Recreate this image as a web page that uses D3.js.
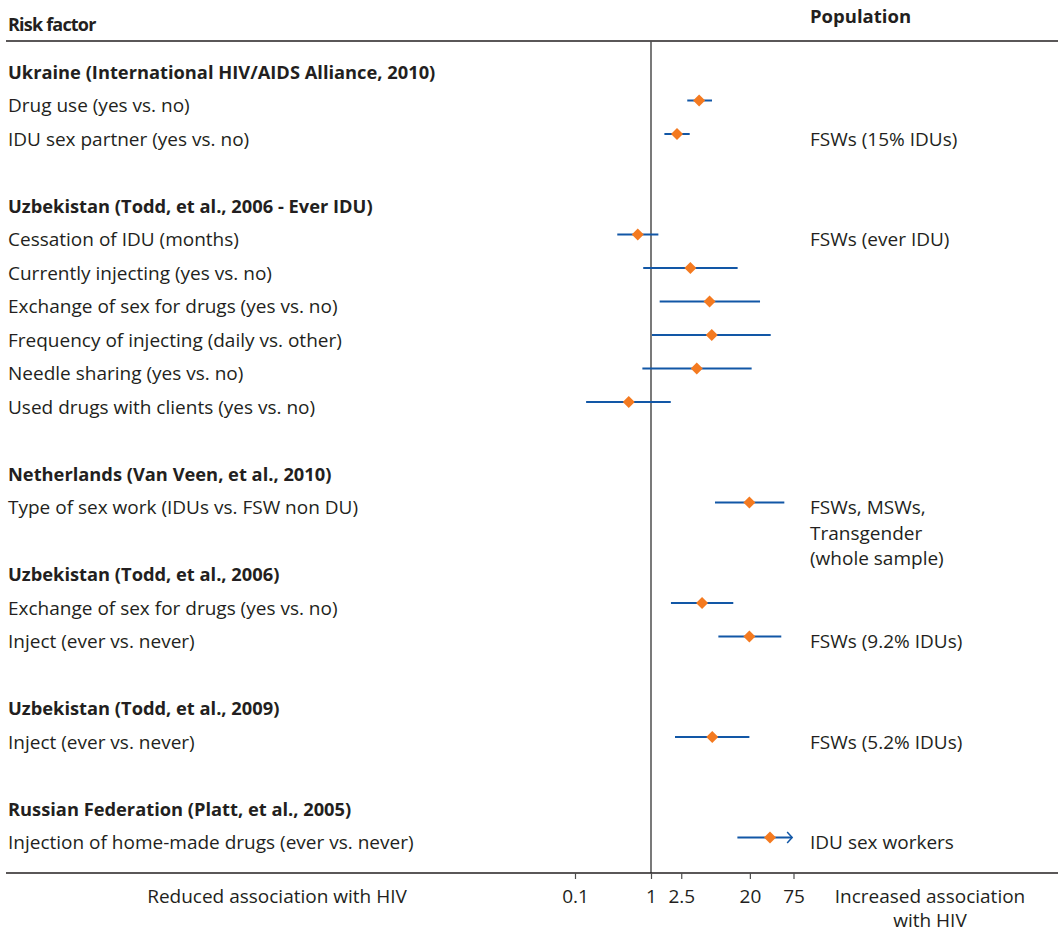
<!DOCTYPE html>
<html>
<head>
<meta charset="utf-8">
<script src="https://cdn.jsdelivr.net/npm/d3@7"></script>
<style>
  html, body { margin: 0; padding: 0; background: #ffffff; }
  svg { display: block; }
  text { font-family: "Open Sans", "Noto Sans", sans-serif; fill: #231f20; }
</style>
</head>
<body>
<svg id="chart" width="1058" height="932"></svg>
<script>
// ---- data ----
const rowLabels = [
  "Ukraine (International HIV/AIDS Alliance, 2010)",
  "Drug use (yes vs. no)",
  "IDU sex partner (yes vs. no)",
  "",
  "Uzbekistan (Todd, et al., 2006 - Ever IDU)",
  "Cessation of IDU (months)",
  "Currently injecting (yes vs. no)",
  "Exchange of sex for drugs (yes vs. no)",
  "Frequency of injecting (daily vs. other)",
  "Needle sharing (yes vs. no)",
  "Used drugs with clients (yes vs. no)",
  "",
  "Netherlands (Van Veen, et al., 2010)",
  "Type of sex work (IDUs vs. FSW non DU)",
  "",
  "Uzbekistan (Todd, et al., 2006)",
  "Exchange of sex for drugs (yes vs. no)",
  "Inject (ever vs. never)",
  "",
  "Uzbekistan (Todd, et al., 2009)",
  "Inject (ever vs. never)",
  "",
  "Russian Federation (Platt, et al., 2005)",
  "Injection of home-made drugs (ever vs. never)"
];
const isHeader = [1,0,0,0,1,0,0,0,0,0,0,0,1,0,0,1,0,0,0,1,0,0,1,0];
const oddsRatio = [null,4.3,2.2,null,null,0.67,3.3,5.9,6.3,4.0,0.51,null,null,19.7,null,null,4.7,19.7,null,null,6.4,null,null,36.8];
const ciLower   = [null,3.0,1.5,null,null,0.36,0.79,1.30,1.03,0.77,0.14,null,null,6.95,null,null,1.83,7.7,null,null,2.07,null,null,13.7];
const ciUpper   = [null,6.35,3.23,null,null,1.25,13.8,27.2,37.6,21.1,1.82,null,null,56.8,null,null,12.1,51.8,null,null,19.7,null,null,72];
const ciOpenEnded = [0,0,0,0,0,0,0,0,0,0,0,0,0,0,0,0,0,0,0,0,0,0,0,1];

const populationRows = [2, 5, 13, 17, 20, 23];
const populationLabels = [
  ["FSWs (15% IDUs)"],
  ["FSWs (ever IDU)"],
  ["FSWs, MSWs,", "Transgender", "(whole sample)"],
  ["FSWs (9.2% IDUs)"],
  ["FSWs (5.2% IDUs)"],
  ["IDU sex workers"]
];
const tickValues = [0.1, 1, 2.5, 20, 75];
const headerLeft = "Risk factor";
const headerRight = "Population";
const axisLeftLabel = "Reduced association with HIV";
const axisRightLabel = ["Increased association", "with HIV"];

// ---- layout ----
const W = 1058, H = 932;
const svg = d3.select("#chart");
const fs = 19;
const fsBold = 18.3;
const orange = "#f47a20";
const blue = "#1257a6";

const x = d3.scaleLog().domain([0.1, 75]).range([575, 793.5]);
const y = d3.scalePoint().domain(d3.range(rowLabels.length)).range([67, 837.5]);

const headerLineY = 41, axisY = 873;
const refX = x(1);

// headers
svg.append("text").attr("x", 8).attr("y", 31).attr("font-size", 18).attr("letter-spacing", -0.8)
  .attr("font-weight", 700).text(headerLeft);
svg.append("text").attr("x", 810).attr("y", 23).attr("font-size", 18.5).attr("font-weight", 700).text(headerRight);
svg.append("line").attr("x1", 6).attr("x2", W).attr("y1", headerLineY).attr("y2", headerLineY)
  .attr("stroke", "#231f20").attr("stroke-width", 1.5);

// reference line
svg.append("line").attr("x1", refX).attr("x2", refX).attr("y1", headerLineY).attr("y2", axisY)
  .attr("stroke", "#4d4d4d").attr("stroke-width", 1.5);

// row labels
svg.append("g").selectAll("text")
  .data(rowLabels.map((d, i) => ({label: d, i})).filter(d => d.label !== ""))
  .join("text")
  .attr("x", 8)
  .attr("y", d => y(d.i) + 11.5)
  .attr("font-size", d => isHeader[d.i] ? fsBold : fs)
  .attr("font-weight", d => isHeader[d.i] ? 700 : 400)
  .text(d => d.label);

// CI lines and markers
const est = d3.range(rowLabels.length).filter(i => oddsRatio[i] != null);
const g = svg.append("g");
g.selectAll("line.ci").data(est).join("line")
  .attr("class", "ci")
  .attr("x1", i => x(ciLower[i])).attr("x2", i => x(ciUpper[i]))
  .attr("y1", i => y(i)).attr("y2", i => y(i))
  .attr("stroke", blue).attr("stroke-width", 2);
g.selectAll("path.arrow").data(est.filter(i => ciOpenEnded[i])).join("path")
  .attr("class", "arrow")
  .attr("d", i => {
    const xe = x(ciUpper[i]), yy = y(i);
    return `M${xe - 5},${yy - 5.5}L${xe},${yy}L${xe - 5},${yy + 5.5}`;
  })
  .attr("fill", "none").attr("stroke", blue).attr("stroke-width", 1.5);
g.selectAll("path.pt").data(est).join("path")
  .attr("class", "pt")
  .attr("transform", i => `translate(${x(oddsRatio[i])},${y(i)})`)
  .attr("d", "M0,-6L6,0L0,6L-6,0Z")
  .attr("fill", orange);

// population labels
populationRows.forEach((r, k) => {
  populationLabels[k].forEach((line, j) => {
    svg.append("text").attr("x", 810).attr("y", y(r) + 11.5 + j * 25.5)
      .attr("font-size", fs).text(line);
  });
});

// axis
svg.append("line").attr("x1", 6).attr("x2", W).attr("y1", axisY).attr("y2", axisY)
  .attr("stroke", "#231f20").attr("stroke-width", 1.5);
const axis = d3.axisBottom(x).tickValues(tickValues).tickSize(6).tickFormat(d => String(d));
const ag = svg.append("g").attr("transform", `translate(0,${axisY})`).call(axis);
ag.select(".domain").remove();
ag.selectAll(".tick line").attr("stroke", "#4d4d4d").attr("stroke-width", 1.2);
ag.selectAll(".tick text").attr("y", 30).attr("dy", 0)
  .attr("font-size", fs).attr("font-family", "Open Sans, Noto Sans, sans-serif").attr("fill", "#231f20");

svg.append("text").attr("x", 277).attr("y", 903).attr("text-anchor", "middle").attr("font-size", fs).text(axisLeftLabel);
axisRightLabel.forEach((t, j) => {
  svg.append("text").attr("x", 930).attr("y", 903 + j * 24).attr("text-anchor", "middle").attr("font-size", fs).text(t);
});
</script>
</body>
</html>
